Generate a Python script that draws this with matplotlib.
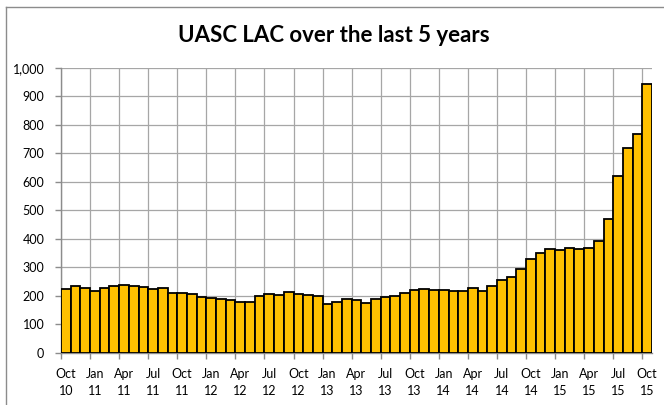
import numpy as np
import matplotlib
matplotlib.use("Agg")
import matplotlib.pyplot as plt

# Monthly values Oct 2010 .. Oct 2015
months = ["Oct 10", "Nov 10", "Dec 10",
          "Jan 11", "Feb 11", "Mar 11", "Apr 11", "May 11", "Jun 11", "Jul 11", "Aug 11", "Sep 11", "Oct 11", "Nov 11", "Dec 11",
          "Jan 12", "Feb 12", "Mar 12", "Apr 12", "May 12", "Jun 12", "Jul 12", "Aug 12", "Sep 12", "Oct 12", "Nov 12", "Dec 12",
          "Jan 13", "Feb 13", "Mar 13", "Apr 13", "May 13", "Jun 13", "Jul 13", "Aug 13", "Sep 13", "Oct 13", "Nov 13", "Dec 13",
          "Jan 14", "Feb 14", "Mar 14", "Apr 14", "May 14", "Jun 14", "Jul 14", "Aug 14", "Sep 14", "Oct 14", "Nov 14", "Dec 14",
          "Jan 15", "Feb 15", "Mar 15", "Apr 15", "May 15", "Jun 15", "Jul 15", "Aug 15", "Sep 15", "Oct 15"]
values = [225, 236, 228,
          219, 227, 236, 239, 235, 232, 225, 229, 209, 209, 206, 195,
          193, 189, 185, 180, 180, 199, 206, 202, 213, 207, 204, 200,
          173, 180, 191, 185, 177, 191, 196, 201, 212, 222, 226, 221,
          220, 218, 217, 228, 219, 236, 256, 267, 295, 331, 352, 364,
          361, 367, 366, 367, 393, 469, 622, 719, 768, 944]
yticks = [0, 100, 200, 300, 400, 500, 600, 700, 800, 900, 1000]
title = "UASC LAC over the last 5 years"

plt.rcParams['font.family'] = ['Lato', 'DejaVu Sans']

W, H = 664, 405
fig = plt.figure(figsize=(W / 100, H / 100), dpi=100)
ax = fig.add_axes([61 / W, 1 - 353 / H, (652 - 61) / W, (353 - 67.7) / H])

x = np.arange(len(values))
ax.bar(x, values, width=1.0, color="#FFC000", edgecolor="black", linewidth=1.3, zorder=3)

ax.set_xlim(-0.5, len(values) - 0.5)
ax.set_ylim(0, 1000)

# gridlines at every 3rd category boundary
edges = np.arange(-0.5, len(values) - 0.5, 3)
ax.set_xticks(edges)
ax.set_xticklabels([])
centers = np.arange(0, len(values), 3)
ax.set_xticks(centers, minor=True)
ax.set_xticklabels([months[i].replace(" ", "\n") for i in centers], minor=True)
ax.tick_params(axis="x", which="major", length=4, color="#8C8C8C", width=1)
ax.tick_params(axis="x", which="minor", length=0, pad=11, labelsize=9, colors="black")
for lbl in ax.get_xticklabels(minor=True):
    lbl.set_linespacing(1.45)

ax.set_yticks(yticks)
ax.set_yticklabels([f"{v:,}" for v in yticks])
ax.tick_params(axis="y", length=4, color="#8C8C8C", width=1, pad=8, labelsize=9)

ax.grid(True, which="major", color="#A6A6A6", linewidth=0.9, zorder=0)
ax.set_axisbelow(True)
for s in ["top", "right"]:
    ax.spines[s].set_visible(False)
for s in ["left", "bottom"]:
    ax.spines[s].set_color("#8C8C8C")
    ax.spines[s].set_linewidth(1)

fig.text(333.5 / W, 1 - 36 / H, title, ha="center", va="center",
         fontsize=16, fontweight="bold")

# chart-area border (cropped at right and bottom)
fig.add_artist(plt.Line2D([5.5 / W, 1.0], [1 - 7 / H, 1 - 7 / H], transform=fig.transFigure,
                          color="#8C8C8C", linewidth=1))
fig.add_artist(plt.Line2D([5.5 / W, 5.5 / W], [0, 1 - 7 / H], transform=fig.transFigure,
                          color="#8C8C8C", linewidth=1))

fig.savefig("out.png", dpi=100)
